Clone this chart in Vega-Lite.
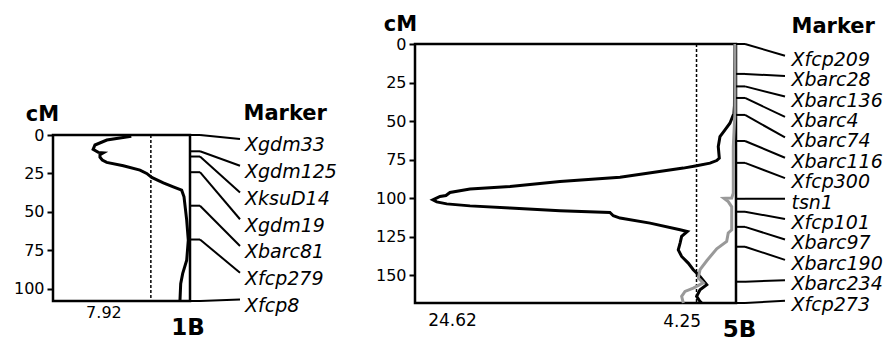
{
  "$schema": "https://vega.github.io/schema/vega-lite/v6.json",
  "padding": {"left": 13, "top": 13, "right": 0, "bottom": 0},
  "bounds": "flush",
  "spacing": 0,
  "config": {
    "view": {"stroke": null},
    "font": "DejaVu Sans",
    "axis": {"grid": false, "domain": false, "tickColor": "black", "tickWidth": 2, "tickSize": 6, "labelColor": "black", "labelFontSize": 16, "labelPadding": 3, "labelFont": "DejaVu Sans", "titleFont": "DejaVu Sans", "titleFontSize": 21, "titleFontWeight": "bold", "titleColor": "black", "titleAngle": 0, "titleAlign": "center", "titleBaseline": "alphabetic"},
    "text": {"color": "black"}
  },
  "datasets": {
    "info1B": [{"panel": "1B", "peak": 7.92, "threshold": 3.2}],
    "info5B": [{"panel": "5B", "peak": 24.62, "threshold": 4.25}],
    "lod1B": [
      {"cM": 0.8, "LOD": 4.8}, {"cM": 3.3, "LOD": 6.8}, {"cM": 6.5, "LOD": 7.77}, {"cM": 9.3, "LOD": 7.92},
      {"cM": 11.3, "LOD": 7.5}, {"cM": 11.6, "LOD": 7.09}, {"cM": 12.8, "LOD": 7.36}, {"cM": 14.5, "LOD": 7.36},
      {"cM": 16.3, "LOD": 7.17}, {"cM": 17.8, "LOD": 6.81}, {"cM": 20.0, "LOD": 5.45}, {"cM": 22.8, "LOD": 4.09},
      {"cM": 25.0, "LOD": 3.54}, {"cM": 27.6, "LOD": 3.13}, {"cM": 31.1, "LOD": 2.18}, {"cM": 33.7, "LOD": 1.37},
      {"cM": 35.9, "LOD": 0.68}, {"cM": 40.2, "LOD": 0.49}, {"cM": 55.4, "LOD": 0.27}, {"cM": 68.4, "LOD": 0.14},
      {"cM": 81.5, "LOD": 0.27}, {"cM": 90.2, "LOD": 0.6}, {"cM": 96.7, "LOD": 0.76}, {"cM": 107.6, "LOD": 0.82}
    ],
    "lod5B": [
      {"trait": "A", "cM": 0, "LOD": 1.28}, {"trait": "A", "cM": 20, "LOD": 1.3}, {"trait": "A", "cM": 40, "LOD": 1.32},
      {"trait": "A", "cM": 44.9, "LOD": 1.36}, {"trait": "A", "cM": 51.4, "LOD": 1.67}, {"trait": "A", "cM": 55.7, "LOD": 2.05},
      {"trait": "A", "cM": 60.1, "LOD": 2.44}, {"trait": "A", "cM": 66.5, "LOD": 2.57}, {"trait": "A", "cM": 74.1, "LOD": 2.49},
      {"trait": "A", "cM": 75.6, "LOD": 2.69}, {"trait": "A", "cM": 77.3, "LOD": 3.21}, {"trait": "A", "cM": 79.0, "LOD": 4.24},
      {"trait": "A", "cM": 80.5, "LOD": 5.27}, {"trait": "A", "cM": 86.4, "LOD": 10.16}, {"trait": "A", "cM": 89.2, "LOD": 14.8},
      {"trait": "A", "cM": 92.5, "LOD": 18.66}, {"trait": "A", "cM": 94.1, "LOD": 21.75}, {"trait": "A", "cM": 96.3, "LOD": 23.3},
      {"trait": "A", "cM": 98.3, "LOD": 23.61}, {"trait": "A", "cM": 98.9, "LOD": 24.07}, {"trait": "A", "cM": 101.1, "LOD": 24.62},
      {"trait": "A", "cM": 102.4, "LOD": 24.32}, {"trait": "A", "cM": 103.7, "LOD": 23.55}, {"trait": "A", "cM": 105.0, "LOD": 21.75},
      {"trait": "A", "cM": 106.4, "LOD": 18.66}, {"trait": "A", "cM": 108.2, "LOD": 14.8}, {"trait": "A", "cM": 109.3, "LOD": 10.94},
      {"trait": "A", "cM": 111.4, "LOD": 10.68}, {"trait": "A", "cM": 112.9, "LOD": 10.16}, {"trait": "A", "cM": 116.2, "LOD": 7.84},
      {"trait": "A", "cM": 120.5, "LOD": 5.52}, {"trait": "A", "cM": 121.6, "LOD": 4.96}, {"trait": "A", "cM": 124.8, "LOD": 5.4},
      {"trait": "A", "cM": 129.1, "LOD": 5.52}, {"trait": "A", "cM": 133.5, "LOD": 5.66}, {"trait": "A", "cM": 137.8, "LOD": 5.4},
      {"trait": "A", "cM": 142.1, "LOD": 4.89}, {"trait": "A", "cM": 146.4, "LOD": 4.5}, {"trait": "A", "cM": 150.8, "LOD": 3.98},
      {"trait": "A", "cM": 156.1, "LOD": 3.46}, {"trait": "A", "cM": 159.4, "LOD": 3.98}, {"trait": "A", "cM": 163.7, "LOD": 4.24},
      {"trait": "A", "cM": 167.0, "LOD": 3.98}, {"trait": "A", "cM": 168, "LOD": 3.85},
      {"trait": "B", "cM": 0, "LOD": 1.28}, {"trait": "B", "cM": 44.7, "LOD": 1.28}, {"trait": "B", "cM": 66.5, "LOD": 1.41},
      {"trait": "B", "cM": 96.7, "LOD": 1.41}, {"trait": "B", "cM": 99.9, "LOD": 1.53}, {"trait": "B", "cM": 100.1, "LOD": 2.13},
      {"trait": "B", "cM": 102.2, "LOD": 1.8}, {"trait": "B", "cM": 105.6, "LOD": 1.53}, {"trait": "B", "cM": 120.5, "LOD": 1.53},
      {"trait": "B", "cM": 122.6, "LOD": 1.8}, {"trait": "B", "cM": 128.1, "LOD": 1.92}, {"trait": "B", "cM": 132.8, "LOD": 2.69},
      {"trait": "B", "cM": 140.6, "LOD": 3.46}, {"trait": "B", "cM": 146.4, "LOD": 3.98}, {"trait": "B", "cM": 151.8, "LOD": 4.11},
      {"trait": "B", "cM": 155.0, "LOD": 3.73}, {"trait": "B", "cM": 158.3, "LOD": 4.5}, {"trait": "B", "cM": 160.5, "LOD": 5.14},
      {"trait": "B", "cM": 163.7, "LOD": 5.4}, {"trait": "B", "cM": 168, "LOD": 5.27}
    ],
    "markers1B": [
      {"marker": "Xgdm33", "cM": 0, "labelY": 2.6},
      {"marker": "Xgdm125", "cM": 10.6, "labelY": 20.0},
      {"marker": "XksuD14", "cM": 14.0, "labelY": 37.4},
      {"marker": "Xgdm19", "cM": 24.2, "labelY": 54.8},
      {"marker": "Xbarc81", "cM": 46.0, "labelY": 72.2},
      {"marker": "Xfcp279", "cM": 68.0, "labelY": 89.6},
      {"marker": "Xfcp8", "cM": 108, "labelY": 107.0}
    ],
    "markers5B": [
      {"marker": "Xfcp209", "cM": 0, "labelY": 7.6},
      {"marker": "Xbarc28", "cM": 19.4, "labelY": 20.8},
      {"marker": "Xbarc136", "cM": 27.5, "labelY": 34.1},
      {"marker": "Xbarc4", "cM": 35.0, "labelY": 47.3},
      {"marker": "Xbarc74", "cM": 46.0, "labelY": 60.6},
      {"marker": "Xbarc116", "cM": 62.9, "labelY": 73.8},
      {"marker": "Xfcp300", "cM": 77.1, "labelY": 87.0},
      {"marker": "tsn1", "cM": 100.4, "labelY": 100.3},
      {"marker": "Xfcp101", "cM": 108.8, "labelY": 113.5},
      {"marker": "Xbarc97", "cM": 118.6, "labelY": 126.8},
      {"marker": "Xbarc190", "cM": 131.5, "labelY": 140.0},
      {"marker": "Xbarc234", "cM": 154.2, "labelY": 153.2},
      {"marker": "Xfcp273", "cM": 168, "labelY": 166.5}
    ]
  },
  "hconcat": [
    {
      "width": 137, "height": 259,
      "layer": [
        {"data": {"name": "info1B"},
         "mark": {"type": "rect", "filled": false, "stroke": "black", "strokeWidth": 2.5},
         "encoding": {
           "x": {"datum": 11.2, "type": "quantitative", "scale": {"domain": [0, 11.2], "reverse": true, "nice": false, "zero": false}, "axis": null},
           "x2": {"datum": 0},
           "y": {"datum": 0, "type": "quantitative", "scale": {"domain": [0, 108], "range": [91, 257], "nice": false, "zero": false}, "axis": {"title": "cM", "values": [0, 25, 50, 75, 100], "titleX": -11, "titleY": 76}},
           "y2": {"datum": 108}
         }},
        {"data": {"name": "info1B"},
         "mark": {"type": "rule", "strokeDash": [3, 2], "strokeWidth": 1.5, "color": "black"},
         "encoding": {
           "x": {"field": "threshold", "type": "quantitative", "axis": null},
           "y": {"datum": 0, "type": "quantitative"},
           "y2": {"datum": 108}
         }},
        {"data": {"name": "lod1B"},
         "mark": {"type": "line", "color": "black", "strokeWidth": 3},
         "encoding": {
           "x": {"field": "LOD", "type": "quantitative", "axis": null},
           "y": {"field": "cM", "type": "quantitative"},
           "order": {"field": "cM", "type": "quantitative"}
         }},
        {"data": {"name": "info1B"},
         "mark": {"type": "text", "align": "left", "baseline": "alphabetic", "dx": -7, "dy": 16.6, "fontSize": 16},
         "encoding": {
           "x": {"field": "peak", "type": "quantitative", "axis": null},
           "y": {"datum": 108, "type": "quantitative"},
           "text": {"field": "peak", "type": "nominal"}
         }},
        {"data": {"name": "info1B"},
         "mark": {"type": "text", "align": "center", "baseline": "alphabetic", "dx": -2, "dy": 34, "fontSize": 23, "fontWeight": "bold"},
         "encoding": {
           "x": {"datum": 0, "type": "quantitative", "axis": null},
           "y": {"datum": 108, "type": "quantitative"},
           "text": {"field": "panel", "type": "nominal"}
         }}
      ]
    },
    {
      "width": 225, "height": 259,
      "layer": [
        {"data": {"name": "markers1B"},
         "mark": {"type": "rule", "color": "black", "strokeWidth": 2},
         "encoding": {
           "x": {"datum": 0, "type": "quantitative", "scale": {"domain": [0, 4.5], "nice": false, "zero": false}, "axis": null},
           "x2": {"datum": 0.2},
           "y": {"field": "cM", "type": "quantitative", "scale": {"domain": [0, 108], "range": [91, 257], "nice": false, "zero": false}, "axis": null}
         }},
        {"data": {"name": "markers1B"},
         "mark": {"type": "rule", "color": "black", "strokeWidth": 2},
         "encoding": {
           "x": {"datum": 0.2, "type": "quantitative", "axis": null},
           "x2": {"datum": 1},
           "y": {"field": "cM", "type": "quantitative", "axis": null},
           "y2": {"field": "labelY"}
         }},
        {"data": {"name": "markers1B"},
         "mark": {"type": "text", "align": "left", "baseline": "alphabetic", "dy": 12.5, "fontSize": 19, "fontStyle": "italic"},
         "encoding": {
           "x": {"datum": 1.1, "type": "quantitative", "axis": null},
           "y": {"field": "labelY", "type": "quantitative", "axis": null},
           "text": {"field": "marker", "type": "nominal"}
         }},
        {"data": {"values": [{"title": "Marker"}]},
         "mark": {"type": "text", "align": "left", "baseline": "alphabetic", "fontSize": 21, "fontWeight": "bold"},
         "encoding": {
           "x": {"datum": 1.07, "type": "quantitative", "axis": null},
           "y": {"datum": -9.8, "type": "quantitative", "axis": null},
           "text": {"field": "title", "type": "nominal"}
         }}
      ]
    },
    {
      "width": 321, "height": 259,
      "layer": [
        {"data": {"name": "info5B"},
         "mark": {"type": "rect", "filled": false, "stroke": "black", "strokeWidth": 2.5},
         "encoding": {
           "x": {"datum": 26, "type": "quantitative", "scale": {"domain": [1.2, 26], "reverse": true, "nice": false, "zero": false}, "axis": null},
           "x2": {"datum": 1.2},
           "y": {"datum": 0, "type": "quantitative", "scale": {"domain": [0, 168], "range": [0, 259], "nice": false, "zero": false}, "axis": {"title": "cM", "values": [0, 25, 50, 75, 100, 125, 150], "titleX": -15, "titleY": -14}},
           "y2": {"datum": 168}
         }},
        {"data": {"name": "info5B"},
         "mark": {"type": "rule", "strokeDash": [3, 2], "strokeWidth": 1.5, "color": "black"},
         "encoding": {
           "x": {"field": "threshold", "type": "quantitative", "axis": null},
           "y": {"datum": 0, "type": "quantitative"},
           "y2": {"datum": 168}
         }},
        {"data": {"name": "lod5B"},
         "transform": [{"filter": "datum.trait === 'A'"}],
         "mark": {"type": "line", "color": "black", "strokeWidth": 3},
         "encoding": {
           "x": {"field": "LOD", "type": "quantitative", "axis": null},
           "y": {"field": "cM", "type": "quantitative"},
           "order": {"field": "cM", "type": "quantitative"}
         }},
        {"data": {"name": "lod5B"},
         "transform": [{"filter": "datum.trait === 'B'"}],
         "mark": {"type": "line", "color": "#999999", "strokeWidth": 3},
         "encoding": {
           "x": {"field": "LOD", "type": "quantitative", "axis": null},
           "y": {"field": "cM", "type": "quantitative"},
           "order": {"field": "cM", "type": "quantitative"}
         }},
        {"data": {"name": "info5B"},
         "mark": {"type": "text", "align": "left", "baseline": "alphabetic", "dx": -4.7, "dy": 22.7, "fontSize": 17},
         "encoding": {
           "x": {"field": "peak", "type": "quantitative", "axis": null},
           "y": {"datum": 168, "type": "quantitative"},
           "text": {"field": "peak", "type": "nominal"}
         }},
        {"data": {"name": "info5B"},
         "mark": {"type": "text", "align": "center", "baseline": "alphabetic", "dx": -14.3, "dy": 24.4, "fontSize": 17},
         "encoding": {
           "x": {"field": "threshold", "type": "quantitative", "axis": null},
           "y": {"datum": 168, "type": "quantitative"},
           "text": {"field": "threshold", "type": "nominal"}
         }},
        {"data": {"name": "info5B"},
         "mark": {"type": "text", "align": "center", "baseline": "alphabetic", "dx": 3.5, "dy": 34, "fontSize": 23, "fontWeight": "bold"},
         "encoding": {
           "x": {"datum": 1.2, "type": "quantitative", "axis": null},
           "y": {"datum": 168, "type": "quantitative"},
           "text": {"field": "panel", "type": "nominal"}
         }}
      ]
    },
    {
      "width": 140, "height": 259,
      "layer": [
        {"data": {"name": "markers5B"},
         "mark": {"type": "rule", "color": "black", "strokeWidth": 2},
         "encoding": {
           "x": {"datum": 0, "type": "quantitative", "scale": {"domain": [0, 2.8], "nice": false, "zero": false}, "axis": null},
           "x2": {"datum": 0.18},
           "y": {"field": "cM", "type": "quantitative", "scale": {"domain": [0, 168], "range": [0, 259], "nice": false, "zero": false}, "axis": null}
         }},
        {"data": {"name": "markers5B"},
         "mark": {"type": "rule", "color": "black", "strokeWidth": 2},
         "encoding": {
           "x": {"datum": 0.18, "type": "quantitative", "axis": null},
           "x2": {"datum": 0.98},
           "y": {"field": "cM", "type": "quantitative", "axis": null},
           "y2": {"field": "labelY"}
         }},
        {"data": {"name": "markers5B"},
         "mark": {"type": "text", "align": "left", "baseline": "alphabetic", "dy": 10, "fontSize": 19, "fontStyle": "italic"},
         "encoding": {
           "x": {"datum": 1.11, "type": "quantitative", "axis": null},
           "y": {"field": "labelY", "type": "quantitative", "axis": null},
           "text": {"field": "marker", "type": "nominal"},
           "fontWeight": {"condition": {"test": "datum.marker === 'tsn1'", "value": "bold"}, "value": "normal"}
         }},
        {"data": {"values": [{"title": "Marker"}]},
         "mark": {"type": "text", "align": "left", "baseline": "alphabetic", "fontSize": 21, "fontWeight": "bold"},
         "encoding": {
           "x": {"datum": 1.11, "type": "quantitative", "axis": null},
           "y": {"datum": -6.9, "type": "quantitative", "axis": null},
           "text": {"field": "title", "type": "nominal"}
         }}
      ]
    }
  ]
}
